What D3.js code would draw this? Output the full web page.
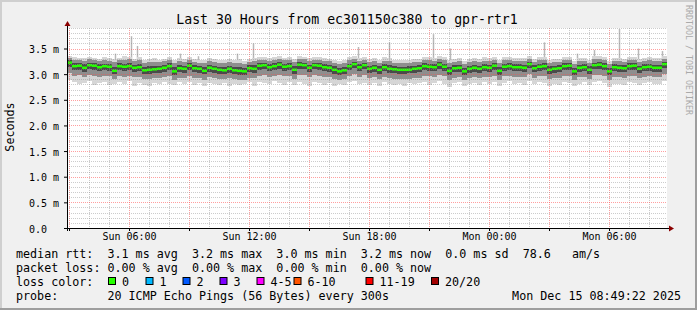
<!DOCTYPE html>
<html>
<head>
<meta charset="utf-8">
<script src="https://cdn.jsdelivr.net/npm/d3@7"></script>
<style>
body { margin: 0; background: #f0f0f0; }
text { font-family: "DejaVu Sans Mono", monospace; white-space: pre; }
</style>
</head>
<body>
<svg id="chart"></svg>
<script>
// graph window and sampling
const startTime = "2025-12-14 02:54";
const endTime = "2025-12-15 08:54";
const stepMinutes = 15;

// median rtt (ms), one value per step
const median = [
  3.22,3.15,3.16,3.12,3.17,3.16,3.13,3.15,3.14,3.06,
  3.15,3.14,3.15,3.12,3.13,3.07,3.08,3.09,3.10,3.12,
  3.15,3.05,3.11,3.10,3.16,3.11,3.10,3.06,3.12,3.10,
  3.08,3.07,3.10,3.07,3.06,3.05,3.11,3.10,3.16,3.17,
  3.13,3.15,3.18,3.14,3.15,3.08,3.18,3.17,3.12,3.17,
  3.16,3.13,3.12,3.08,3.05,3.07,3.15,3.19,3.13,3.17,
  3.10,3.12,3.08,3.13,3.10,3.09,3.08,3.08,3.08,3.10,
  3.11,3.15,3.14,3.13,3.18,3.14,3.06,3.11,3.12,3.05,
  3.10,3.12,3.10,3.13,3.12,3.16,3.06,3.14,3.15,3.13,
  3.13,3.12,3.19,3.11,3.14,3.15,3.08,3.10,3.11,3.15,
  3.16,3.05,3.12,3.13,3.08,3.17,3.18,3.15,3.05,3.13,
  3.12,3.11,3.15,3.16,3.10,3.13,3.14,3.12,3.12,3.19
];

// smoke: sorted ping spread per step (ms)
const pingLow = [
  2.88,2.84,2.80,2.83,2.86,2.79,2.82,2.85,2.78,2.81,
  2.84,2.80,2.86,2.77,2.82,2.79,2.76,2.83,2.80,2.84,
  2.81,2.78,2.84,2.80,2.85,2.79,2.82,2.76,2.83,2.80,
  2.79,2.82,2.77,2.81,2.78,2.80,2.84,2.76,2.85,2.83,
  2.80,2.86,2.82,2.78,2.84,2.79,2.85,2.81,2.77,2.84,
  2.83,2.79,2.82,2.76,2.80,2.78,2.84,2.86,2.80,2.83,
  2.79,2.82,2.77,2.84,2.80,2.78,2.81,2.76,2.83,2.80,
  2.82,2.85,2.79,2.83,2.86,2.80,2.75,2.82,2.84,2.77,
  2.80,2.83,2.78,2.85,2.81,2.84,2.76,2.83,2.86,2.80,
  2.82,2.79,2.86,2.80,2.84,2.82,2.77,2.81,2.79,2.85,
  2.83,2.76,2.81,2.84,2.78,2.85,2.86,2.82,2.75,2.81,
  2.80,2.78,2.84,2.83,2.79,2.82,2.85,2.80,2.81,2.86
];
const ping10 = [
  3.02,2.97,2.98,2.95,2.99,2.97,2.95,2.96,2.96,2.90,
  2.97,2.95,2.97,2.94,2.95,2.91,2.90,2.92,2.93,2.94,
  2.96,2.89,2.93,2.92,2.97,2.93,2.92,2.89,2.94,2.92,
  2.91,2.90,2.92,2.90,2.89,2.88,2.93,2.92,2.97,2.98,
  2.95,2.97,2.99,2.96,2.97,2.91,2.99,2.98,2.94,2.98,
  2.97,2.95,2.94,2.91,2.88,2.90,2.96,3.00,2.95,2.98,
  2.92,2.94,2.91,2.95,2.92,2.91,2.90,2.91,2.91,2.92,
  2.93,2.97,2.96,2.95,2.99,2.96,2.89,2.93,2.94,2.88,
  2.92,2.94,2.92,2.95,2.94,2.97,2.89,2.96,2.97,2.95,
  2.95,2.94,3.00,2.93,2.96,2.97,2.91,2.92,2.93,2.97,
  2.97,2.88,2.94,2.95,2.91,2.98,2.99,2.96,2.88,2.95,
  2.94,2.93,2.97,2.97,2.92,2.95,2.96,2.94,2.94,3.00
];
const ping25 = [
  3.14,3.08,3.09,3.05,3.10,3.09,3.06,3.08,3.07,3.00,
  3.08,3.07,3.08,3.05,3.06,3.01,3.01,3.03,3.03,3.05,
  3.08,2.99,3.04,3.03,3.09,3.04,3.03,3.00,3.05,3.03,
  3.01,3.00,3.03,3.01,2.99,2.98,3.04,3.03,3.09,3.10,
  3.06,3.08,3.11,3.07,3.08,3.01,3.11,3.10,3.05,3.10,
  3.09,3.06,3.05,3.01,2.98,3.00,3.08,3.12,3.06,3.10,
  3.03,3.05,3.01,3.06,3.03,3.02,3.01,3.01,3.02,3.03,
  3.04,3.08,3.07,3.06,3.11,3.07,2.99,3.04,3.05,2.98,
  3.03,3.05,3.03,3.06,3.05,3.09,2.99,3.07,3.08,3.06,
  3.06,3.05,3.12,3.04,3.07,3.08,3.01,3.03,3.04,3.08,
  3.09,2.98,3.05,3.06,3.01,3.10,3.11,3.08,2.98,3.06,
  3.05,3.04,3.08,3.09,3.03,3.06,3.07,3.05,3.05,3.12
];
const ping75 = [
  3.27,3.21,3.22,3.19,3.22,3.21,3.19,3.20,3.20,3.14,
  3.21,3.20,3.22,3.18,3.19,3.14,3.15,3.16,3.16,3.18,
  3.21,3.13,3.18,3.16,3.22,3.17,3.16,3.13,3.18,3.16,
  3.14,3.13,3.16,3.14,3.13,3.12,3.17,3.17,3.21,3.22,
  3.19,3.21,3.23,3.20,3.21,3.15,3.23,3.22,3.18,3.22,
  3.21,3.19,3.18,3.15,3.12,3.14,3.20,3.24,3.19,3.22,
  3.16,3.18,3.15,3.19,3.17,3.15,3.14,3.14,3.15,3.16,
  3.17,3.21,3.20,3.19,3.23,3.20,3.13,3.17,3.18,3.12,
  3.16,3.18,3.16,3.19,3.18,3.21,3.13,3.20,3.21,3.19,
  3.19,3.18,3.24,3.17,3.20,3.21,3.15,3.16,3.17,3.21,
  3.21,3.12,3.18,3.19,3.15,3.22,3.23,3.21,3.12,3.19,
  3.18,3.17,3.21,3.21,3.16,3.19,3.20,3.18,3.18,3.24
];
const ping90 = [
  3.31,3.28,3.27,3.26,3.29,3.27,3.25,3.27,3.26,3.24,
  3.27,3.28,3.30,3.25,3.27,3.22,3.23,3.24,3.23,3.25,
  3.27,3.21,3.25,3.23,3.28,3.24,3.22,3.21,3.25,3.23,
  3.22,3.21,3.23,3.21,3.22,3.20,3.24,3.25,3.28,3.28,
  3.26,3.27,3.29,3.27,3.27,3.23,3.29,3.29,3.25,3.28,
  3.28,3.26,3.25,3.22,3.20,3.21,3.27,3.30,3.26,3.28,
  3.23,3.25,3.22,3.26,3.25,3.22,3.21,3.22,3.22,3.23,
  3.24,3.27,3.27,3.26,3.30,3.27,3.21,3.24,3.25,3.20,
  3.23,3.25,3.23,3.26,3.25,3.28,3.21,3.27,3.28,3.26,
  3.26,3.25,3.30,3.24,3.27,3.28,3.22,3.23,3.24,3.28,
  3.28,3.20,3.25,3.26,3.22,3.29,3.30,3.28,3.20,3.26,
  3.25,3.24,3.28,3.28,3.23,3.26,3.27,3.25,3.25,3.30
];
const pingHigh = [
  3.36,3.33,3.31,3.32,3.34,3.31,3.30,3.33,3.31,3.30,
  3.32,3.35,3.34,3.30,3.33,3.28,3.29,3.31,3.28,3.30,
  3.33,3.27,3.31,3.29,3.34,3.30,3.28,3.27,3.31,3.29,
  3.28,3.27,3.29,3.27,3.30,3.26,3.30,3.32,3.34,3.33,
  3.31,3.33,3.35,3.32,3.33,3.29,3.35,3.34,3.31,3.34,
  3.34,3.31,3.30,3.28,3.26,3.27,3.33,3.36,3.32,3.34,
  3.29,3.32,3.28,3.33,3.31,3.28,3.27,3.28,3.28,3.30,
  3.30,3.34,3.33,3.32,3.36,3.33,3.27,3.30,3.31,3.26,
  3.29,3.31,3.29,3.33,3.31,3.34,3.27,3.33,3.34,3.32,
  3.32,3.31,3.36,3.30,3.33,3.34,3.28,3.29,3.30,3.34,
  3.34,3.26,3.31,3.32,3.28,3.35,3.36,3.34,3.26,3.32,
  3.31,3.30,3.34,3.34,3.29,3.32,3.33,3.31,3.31,3.36
];

// single slow pings
const spikeTimes = [
  "2025-12-14 05:18","2025-12-14 06:06","2025-12-14 06:24","2025-12-14 08:33",
  "2025-12-14 09:27","2025-12-14 11:24","2025-12-14 12:12","2025-12-14 17:27",
  "2025-12-14 19:00","2025-12-14 21:12","2025-12-14 22:03","2025-12-15 02:45",
  "2025-12-15 04:24","2025-12-15 05:15","2025-12-15 06:30","2025-12-15 07:27",
  "2025-12-15 08:39"
];
const spikeValues = [3.40,3.74,3.55,3.40,3.35,3.40,3.60,3.53,3.62,3.78,3.50,3.62,3.40,3.47,3.88,3.50,3.45];

// axes
const yTicks = [0, 0.5, 1.0, 1.5, 2.0, 2.5, 3.0, 3.5];
const xLabelTimes = ["2025-12-14 06:00","2025-12-14 12:00","2025-12-14 18:00","2025-12-15 00:00","2025-12-15 06:00"];
const xLabels = ["Sun 06:00","Sun 12:00","Sun 18:00","Mon 00:00","Mon 06:00"];

// legend
const rttStats = ["3.1 ms avg", "3.2 ms max", "3.0 ms min", "3.2 ms now", "0.0 ms sd", "78.6   am/s"];
const lossStats = ["0.00 % avg", "0.00 % max", "0.00 % min", "0.00 % now"];
const lossLabels = ["0", "1", "2", "3", "4-5", "6-10", "11-19", "20/20"];
const lossColors = ["#26ff00", "#00b8ff", "#0059ff", "#7e00ff", "#ff00ff", "#ff5500", "#ff0000", "#a10000"];

const W = 697, H = 310;
const plotL = 67, plotR = 667, plotT = 28, plotB = 228;
const parse = d3.timeParse("%Y-%m-%d %H:%M");

const svg = d3.select("#chart").attr("width", W).attr("height", H);

// background + 3d frame
svg.append("rect").attr("width", W).attr("height", H).attr("fill", "#f0f0f0");
svg.append("rect").attr("x", plotL).attr("y", plotT).attr("width", plotR - plotL).attr("height", plotB - plotT).attr("fill", "#ffffff");
svg.append("rect").attr("x", 0).attr("y", 0).attr("width", W).attr("height", 2).attr("fill", "#cfcfcf");
svg.append("rect").attr("x", 0).attr("y", 0).attr("width", 2).attr("height", H).attr("fill", "#cfcfcf");
svg.append("rect").attr("x", 0).attr("y", H - 2).attr("width", W).attr("height", 2).attr("fill", "#9e9e9e");
svg.append("rect").attr("x", W - 2).attr("y", 0).attr("width", 2).attr("height", H).attr("fill", "#9e9e9e");

const x = d3.scaleTime().domain([parse(startTime), parse(endTime)]).range([plotL, plotR]);
const y = d3.scaleLinear().domain([0, 3.9]).range([plotB, plotT]);

const steps = median.map((m, i) => {
  const t0 = d3.timeMinute.offset(parse(startTime), i * stepMinutes);
  const t1 = d3.timeMinute.offset(t0, stepMinutes);
  return { t0, t1, m, lo: pingLow[i], p10: ping10[i], p25: ping25[i], p75: ping75[i], p90: ping90[i], hi: pingHigh[i] };
});

// spikes below the smoke
svg.append("g").selectAll("line")
  .data(spikeTimes.map((t, i) => ({ t: parse(t), v: spikeValues[i] })))
  .enter().append("line")
  .attr("x1", d => Math.round(x(d.t)) + 0.5)
  .attr("x2", d => Math.round(x(d.t)) + 0.5)
  .attr("y1", y(3.2))
  .attr("y2", d => y(d.v))
  .attr("stroke", "#b8b8b8")
  .attr("stroke-width", 1.5);

// smoke layers, outer to inner
const layers = [
  { lo: "lo", hi: "hi", color: "#d6d6d6" },
  { lo: "p10", hi: "p90", color: "#8e8e8e" },
  { lo: "p25", hi: "p75", color: "#4a4a4a" }
];
layers.forEach(l => {
  svg.append("g").selectAll("rect")
    .data(steps)
    .enter().append("rect")
    .attr("x", d => x(d.t0))
    .attr("width", d => x(d.t1) - x(d.t0))
    .attr("y", d => y(d[l.hi]))
    .attr("height", d => y(d[l.lo]) - y(d[l.hi]))
    .attr("fill", l.color)
    .attr("shape-rendering", "crispEdges");
});

// median, coloured by loss (0 loss -> green)
svg.append("g").selectAll("rect")
  .data(steps)
  .enter().append("rect")
  .attr("x", d => x(d.t0))
  .attr("width", d => x(d.t1) - x(d.t0))
  .attr("y", d => y(d.m) - 1.5)
  .attr("height", 2.5)
  .attr("fill", lossColors[0]);

// grid on top
const grid = svg.append("g");
const hours = d3.timeHour.range(d3.timeHour.ceil(parse(startTime)), parse(endTime));
hours.forEach(h => {
  const major = h.getHours() % 3 === 0;
  const gx = Math.round(x(h)) + 0.5;
  grid.append("line").attr("x1", gx).attr("x2", gx).attr("y1", plotT).attr("y2", plotB)
    .attr("stroke", major ? "rgba(255,80,80,0.55)" : "rgba(143,143,143,0.45)")
    .attr("stroke-dasharray", "1,1");
});
d3.range(1, 40).forEach(i => {
  const major = i % 5 === 0;
  const gy = Math.round(y(i / 10)) + 0.5;
  grid.append("line").attr("x1", plotL).attr("x2", plotR).attr("y1", gy).attr("y2", gy)
    .attr("stroke", major ? "rgba(255,80,80,0.55)" : "rgba(143,143,143,0.45)")
    .attr("stroke-dasharray", "1,1");
});

// y axis labels + ticks
const yAxis = svg.append("g").attr("transform", `translate(${plotL},0)`)
  .call(d3.axisLeft(y).tickValues(yTicks).tickSize(3).tickPadding(5)
    .tickFormat(d => d === 0 ? "0.0  " : d.toFixed(1) + " m"));
yAxis.select(".domain").remove();
yAxis.selectAll("text").attr("font-size", 10).attr("dy", "0.4em").attr("fill", "#000")
  .style("font-family", "DejaVu Sans Mono");
yAxis.selectAll("line").attr("stroke", "#000");

// x axis: major ticks every 3 hours, labels every 6
const xTickAxis = svg.append("g").attr("transform", `translate(0,${plotB})`)
  .call(d3.axisBottom(x).tickValues(hours.filter(h => h.getHours() % 3 === 0)).tickSize(3).tickFormat(""));
xTickAxis.select(".domain").remove();
xTickAxis.selectAll("line").attr("stroke", "#000");

const xAxis = svg.append("g").attr("transform", `translate(0,${plotB})`)
  .call(d3.axisBottom(x).tickValues(xLabelTimes.map(parse)).tickSize(0).tickPadding(5)
    .tickFormat((d, i) => xLabels[i]));
xAxis.select(".domain").remove();
xAxis.selectAll("text").attr("font-size", 10).attr("fill", "#000").style("font-family", "DejaVu Sans Mono");

// axis lines with arrows
svg.append("line").attr("x1", plotL - 3).attr("x2", plotR + 3).attr("y1", plotB + 0.5).attr("y2", plotB + 0.5)
  .attr("stroke", "#000");
svg.append("line").attr("x1", plotL + 0.5).attr("x2", plotL + 0.5).attr("y1", plotB + 3).attr("y2", plotT - 3)
  .attr("stroke", "#000");
svg.append("path").attr("d", `M${plotR + 2},${plotB - 2.5}L${plotR + 7},${plotB + 0.5}L${plotR + 2},${plotB + 3.5}Z`)
  .attr("fill", "#8b0000");
svg.append("path").attr("d", `M${plotL - 2.5},${plotT - 2}L${plotL + 0.5},${plotT - 7}L${plotL + 3.5},${plotT - 2}Z`)
  .attr("fill", "#8b0000");

// title and side texts
svg.append("text").attr("x", 347).attr("y", 24).attr("text-anchor", "middle")
  .attr("font-size", 13.2).text("Last 30 Hours from ec301150c380 to gpr-rtr1");
svg.append("text").attr("transform", "translate(14,127) rotate(-90)").attr("text-anchor", "middle")
  .attr("font-size", 11.7).text("Seconds");
svg.append("text").attr("transform", "translate(686,5) rotate(90)")
  .attr("font-size", 8.3).attr("fill", "#aaaaaa").text("RRDTOOL / TOBI OETIKER");

// legend
const fs = 11.7;
svg.append("text").attr("x", 16).attr("y", 257.5).attr("font-size", fs)
  .text("median rtt:  " + rttStats.join("  "));
svg.append("text").attr("x", 16).attr("y", 271.7).attr("font-size", fs)
  .text("packet loss: " + lossStats.join("  "));
svg.append("text").attr("x", 16).attr("y", 285.9).attr("font-size", fs)
  .text("loss color:");
const swatchX = [108, 145.5, 182.5, 219.5, 256.5, 293.5, 365.5, 431];
const loss = svg.append("g").selectAll("g").data(lossLabels).enter().append("g");
loss.append("rect")
  .attr("x", (d, i) => swatchX[i] + 0.5).attr("y", 277.5)
  .attr("width", 7).attr("height", 7)
  .attr("fill", (d, i) => lossColors[i]).attr("stroke", "#000");
loss.append("text")
  .attr("x", (d, i) => swatchX[i] + 14).attr("y", 285.9)
  .attr("font-size", fs).text(d => d);
svg.append("text").attr("x", 16).attr("y", 300).attr("font-size", fs)
  .text("probe:       20 ICMP Echo Pings (56 Bytes) every 300s");
svg.append("text").attr("x", 681).attr("y", 300).attr("text-anchor", "end").attr("font-size", fs)
  .text("Mon Dec 15 08:49:22 2025");
</script>
</body>
</html>
